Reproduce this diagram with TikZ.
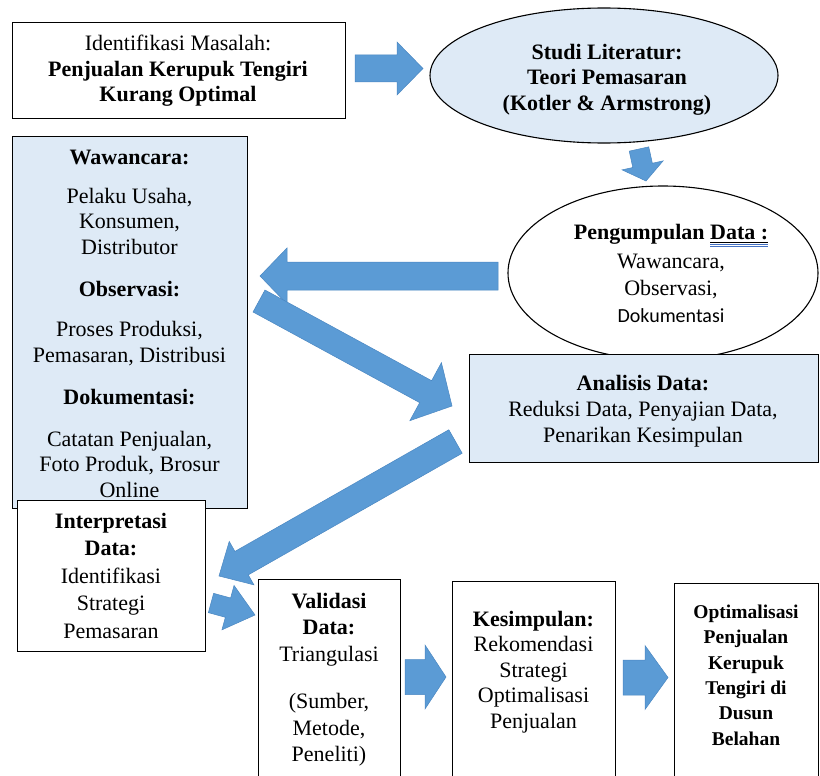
\documentclass[tikz,border=0pt]{standalone}
\usepackage{fontspec}
\setmainfont{Liberation Serif}
\newfontfamily\calibrifont{Carlito}
\usetikzlibrary{shapes.geometric,calc}
\definecolor{lightfill}{HTML}{DEEAF6}
\definecolor{arrowblue}{HTML}{5B9BD5}
\definecolor{arrowedge}{HTML}{4A87C2}
\definecolor{gblue}{HTML}{4472C4}
\tikzset{
  box/.style={draw=black, line width=1.1pt, fill=white, inner sep=0pt, anchor=north west},
  bluebox/.style={box, fill=lightfill},
  oval/.style={draw=black, line width=1.1pt, ellipse, inner sep=0pt},
  txt/.style={align=center, inner sep=0pt, anchor=north, font=\fontsize{22}{25.5}\selectfont},
  blockarrow/.style={fill=arrowblue, draw=arrowedge, line width=0.5pt, line join=miter},
}
% start, end, body half width, head half width, head length
\newcommand\mkblockarrow[5]{%
  \path ($(#2)!#5!(#1)$) coordinate (#1-hb);
  \draw[blockarrow] ($(#1)!#3!90:(#2)$) -- ($(#1-hb)!#3!90:(#2)$) -- ($(#1-hb)!#4!90:(#2)$) -- (#2)
    -- ($(#1-hb)!#4!-90:(#2)$) -- ($(#1-hb)!#3!-90:(#2)$) -- ($(#1)!#3!-90:(#2)$) -- cycle;}
\begin{document}
\begin{tikzpicture}[x=1pt,y=-1pt]
\useasboundingbox (0,0) rectangle (820,776);
\fill[white] (0,0) rectangle (820,776);

% boxes
\node[box, minimum width=333pt, minimum height=96pt] (masalah) at (12,22) {};
\node[oval, fill=lightfill, minimum width=348pt, minimum height=135pt] (literatur) at (604,75.5) {};
\node[bluebox, minimum width=235pt, minimum height=372pt] (metode) at (12,136) {};
\node[oval, fill=white, minimum width=310pt, minimum height=174pt] (pengumpulan) at (663,273) {};
\node[bluebox, minimum width=349pt, minimum height=108pt] (analisis) at (469,354) {};
\node[box, minimum width=188pt, minimum height=151pt] (interpretasi) at (17,500) {};
\node[box, minimum width=142pt, minimum height=215pt] (validasi) at (258,579) {};
\node[box, minimum width=163pt, minimum height=213pt] (kesimpulan) at (452,581) {};
\node[box, minimum width=144pt, minimum height=211pt] (optimal) at (674,583) {};

% texts
\node[txt] (t-masalah) at (178,35) {Identifikasi Masalah:\\ \textbf{Penjualan Kerupuk Tengiri}\\ \textbf{Kurang Optimal}};
\node[txt, font=\fontsize{22}{25.5}\selectfont\bfseries] (t-literatur) at (607,44) {Studi Literatur:\\ Teori Pemasaran\\ (Kotler \& Armstrong)};
\node[txt] (t-metode) at (129.5,150) {\textbf{Wawancara:}\\[13pt] Pelaku Usaha,\\ Konsumen,\\ Distributor\\[17pt]
  \textbf{Observasi:}\\[14.5pt] Proses Produksi,\\ Pemasaran, Distribusi\\[16.5pt]
  \textbf{Dokumentasi:}\\[16.5pt] Catatan Penjualan,\\ Foto Produk, Brosur\\ Online};
\node[txt, font=\fontsize{22}{27}\selectfont] (t-pengumpulan) at (671,224) {{\bfseries Pengumpulan \setbox0\hbox{Data :}\rlap{\rule[-3pt]{\wd0}{0.9pt}}\rlap{\color{gblue}\rule[-5.2pt]{\wd0}{0.45pt}}\rlap{\color{gblue}\rule[-6.6pt]{\wd0}{0.45pt}}\box0}\\[2pt]
  Wawancara,\\ Observasi,\\ {\calibrifont\fontsize{20}{27}\selectfont Dokumentasi}};
\node[txt, font=\fontsize{22}{26}\selectfont] (t-analisis) at (643,375) {\textbf{Analisis Data:}\\ Reduksi Data, Penyajian Data,\\ Penarikan Kesimpulan};
\node[txt, font=\fontsize{22}{27.5}\selectfont] (t-interpretasi) at (111,513) {\textbf{Interpretasi}\\ \textbf{Data:}\\ Identifikasi\\ Strategi\\ Pemasaran};
\node[txt, font=\fontsize{22}{26.5}\selectfont] (t-validasi) at (329,593) {\textbf{Validasi}\\ \textbf{Data:}\\ Triangulasi\\[21pt] (Sumber,\\ Metode,\\ Peneliti)};
\node[txt] (t-kesimpulan) at (533.5,611) {\textbf{Kesimpulan:}\\ Rekomendasi\\ Strategi\\ Optimalisasi\\ Penjualan};
\node[txt, font=\fontsize{19.5}{25.4}\selectfont\bfseries] (t-optimal) at (746,604.5) {Optimalisasi\\ Penjualan\\ Kerupuk\\ Tengiri di\\ Dusun\\ Belahan};

% arrow end points
\coordinate (a1s) at (355,68.5);   \coordinate (a1e) at (423,68.5);
\coordinate (a2s) at (639,149);    \coordinate (a2e) at (646,181);
\coordinate (a3s) at (498,276);    \coordinate (a3e) at (260,276);
\coordinate (a4s) at (259,301);    \coordinate (a4e) at (452,406);
\coordinate (a5s) at (455.5,441.5);\coordinate (a5e) at (219,576);
\coordinate (a6s) at (211,603);    \coordinate (a6e) at (255,615);
\coordinate (a7s) at (405,677);    \coordinate (a7e) at (446,677);
\coordinate (a8s) at (623,677.5);  \coordinate (a8e) at (668,677.5);

\mkblockarrow{a1s}{a1e}{13.5pt}{26.5pt}{26pt}
\mkblockarrow{a2s}{a2e}{10pt}{21pt}{16pt}
\mkblockarrow{a3s}{a3e}{14pt}{28pt}{27pt}
\mkblockarrow{a4s}{a4e}{12.5pt}{33pt}{30pt}
\mkblockarrow{a6s}{a6e}{10pt}{23pt}{28pt}
\mkblockarrow{a5s}{a5e}{13.5pt}{25pt}{26pt}
\mkblockarrow{a7s}{a7e}{17.5pt}{32pt}{21pt}
\mkblockarrow{a8s}{a8e}{17.5pt}{32pt}{23pt}
\end{tikzpicture}
\end{document}
